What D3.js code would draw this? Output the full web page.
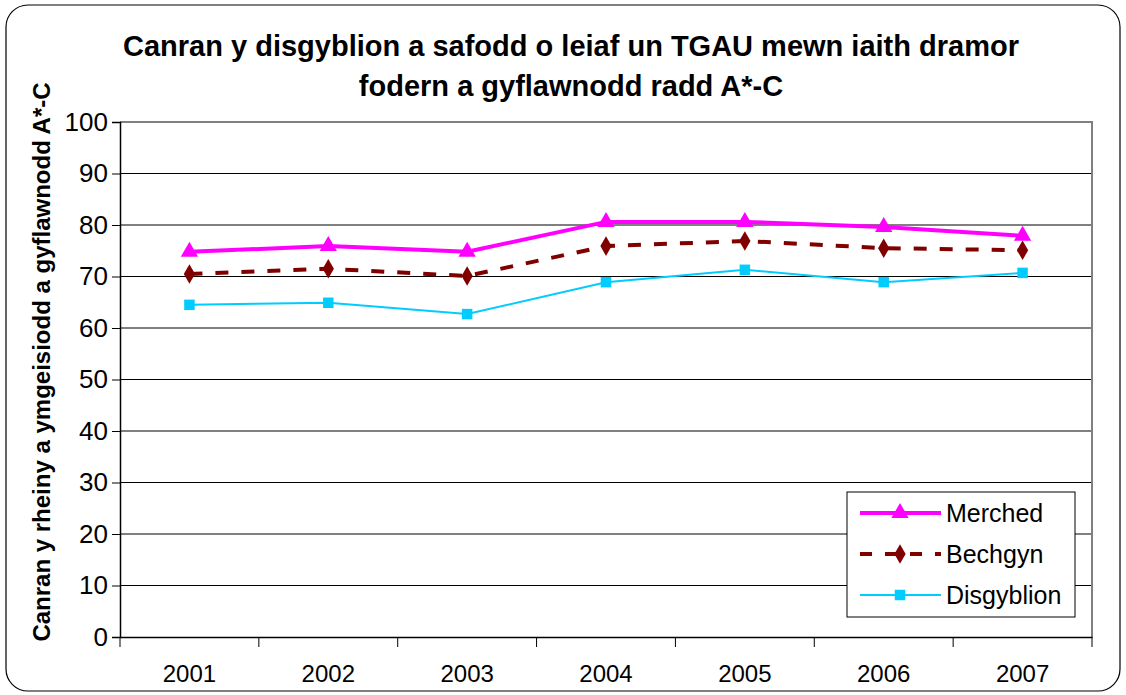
<!DOCTYPE html>
<html>
<head>
<style>
  body { margin: 0; background: #fff; }
  svg { display: block; }
</style>
</head>
<body>
<svg width="1126" height="695" font-family="Liberation Sans, Arial, sans-serif"></svg>
<script src="https://d3js.org/d3.v7.min.js"></script>
<script>

var years = ["2001", "2002", "2003", "2004", "2005", "2006", "2007"];
var merched = [74.8, 75.9, 74.8, 80.6, 80.6, 79.6, 77.9];
var bechgyn = [70.5, 71.5, 70.1, 75.9, 76.9, 75.5, 75.1];
var disgyblion = [64.5, 64.9, 62.7, 68.9, 71.3, 68.9, 70.7];
var yTicks = [0, 10, 20, 30, 40, 50, 60, 70, 80, 90, 100];

var series = [
  {name: "Merched", values: merched, color: "#ff00ff", width: 4, dash: null, symbol: d3.symbolTriangle, size: 130},
  {name: "Bechgyn", values: bechgyn, color: "#800000", width: 4, dash: "13,13", symbol: d3.symbolDiamond, size: 110},
  {name: "Disgyblion", values: disgyblion, color: "#00ccff", width: 2, dash: null, symbol: d3.symbolSquare, size: 110}
];

var svg = d3.select("svg");

// outer frame
svg.append("rect")
    .attr("x", 6).attr("y", 5)
    .attr("width", 1114).attr("height", 686)
    .attr("rx", 22).attr("ry", 22)
    .attr("fill", "none")
    .attr("stroke", "#000")
    .attr("stroke-width", 1.2);

var plotL = 120, plotR = 1092, plotT = 122, plotB = 637;

var x = d3.scaleBand().domain(years).range([plotL, plotR]);
var y = d3.scaleLinear().domain([0, 100]).range([plotB, plotT]);

// gridlines
svg.append("g").selectAll("line")
  .data(yTicks.filter(function(d) { return d > 0 && d < 100; }))
  .enter().append("line")
    .attr("x1", plotL).attr("x2", plotR)
    .attr("y1", function(d) { return y(d); })
    .attr("y2", function(d) { return y(d); })
    .attr("stroke", "#000")
    .attr("stroke-width", 1);

// plot border top / right
svg.append("path")
    .attr("d", "M" + plotL + "," + plotT + "H" + plotR + "V" + plotB)
    .attr("fill", "none")
    .attr("stroke", "#808080")
    .attr("stroke-width", 2);

// y axis
var yAxis = svg.append("g")
    .attr("transform", "translate(" + plotL + ",0)")
    .call(d3.axisLeft(y).tickValues(yTicks).tickSize(8).tickPadding(4));
yAxis.select(".domain").attr("stroke", "#000").attr("stroke-width", 1.5);
yAxis.selectAll("text").attr("font-size", 26).attr("fill", "#000");

// x axis
var xAxis = svg.append("g")
    .attr("transform", "translate(0," + plotB + ")")
    .call(d3.axisBottom(x).tickSize(0));
xAxis.select(".domain").attr("stroke", "#000").attr("stroke-width", 1.5);
xAxis.selectAll("text").attr("font-size", 24).attr("fill", "#000").attr("y", 28);
xAxis.selectAll(".sep")
  .data(years.concat(["end"]))
  .enter().append("line")
    .attr("class", "sep")
    .attr("x1", function(d, i) { return plotL + i * x.step(); })
    .attr("x2", function(d, i) { return plotL + i * x.step(); })
    .attr("y1", 0).attr("y2", 10)
    .attr("stroke", "#000");

// series
var line = d3.line()
    .x(function(d, i) { return x(years[i]) + x.bandwidth() / 2; })
    .y(function(d) { return y(d); });

series.forEach(function(s) {
  svg.append("path")
      .datum(s.values)
      .attr("d", line)
      .attr("fill", "none")
      .attr("stroke", s.color)
      .attr("stroke-width", s.width)
      .attr("stroke-dasharray", s.dash);
  svg.append("g").selectAll("path")
    .data(s.values)
    .enter().append("path")
      .attr("d", d3.symbol().type(s.symbol).size(s.size))
      .attr("transform", function(d, i) {
        return "translate(" + (x(years[i]) + x.bandwidth() / 2) + "," + y(d) + ")";
      })
      .attr("fill", s.color);
});

// titles
var title = svg.append("text")
    .attr("text-anchor", "middle")
    .attr("font-size", 29)
    .attr("font-weight", "bold");
title.append("tspan").attr("x", 571).attr("y", 56)
    .text("Canran y disgyblion a safodd o leiaf un TGAU mewn iaith dramor");
title.append("tspan").attr("x", 571).attr("y", 96)
    .text("fodern a gyflawnodd radd A*-C");

svg.append("text")
    .attr("transform", "translate(50,362) rotate(-90)")
    .attr("text-anchor", "middle")
    .attr("font-size", 24)
    .attr("font-weight", "bold")
    .text("Canran y rheiny a ymgeisiodd a gyflawnodd A*-C");

// legend
var legend = svg.append("g");
legend.append("rect")
    .attr("x", 847).attr("y", 492)
    .attr("width", 228).attr("height", 125)
    .attr("fill", "#fff")
    .attr("stroke", "#000")
    .attr("stroke-width", 1);

series.forEach(function(s, i) {
  var ly = 513 + i * 41;
  legend.append("line")
      .attr("x1", 860).attr("x2", 941)
      .attr("y1", ly).attr("y2", ly)
      .attr("stroke", s.color)
      .attr("stroke-width", s.width)
      .attr("stroke-dasharray", s.dash ? "12,13" : null);
  legend.append("path")
      .attr("d", d3.symbol().type(s.symbol).size(s.size))
      .attr("transform", "translate(900," + ly + ")")
      .attr("fill", s.color);
  legend.append("text")
      .attr("x", 946).attr("y", ly + 9)
      .attr("font-size", 25)
      .text(s.name);
});

</script>
</body>
</html>
